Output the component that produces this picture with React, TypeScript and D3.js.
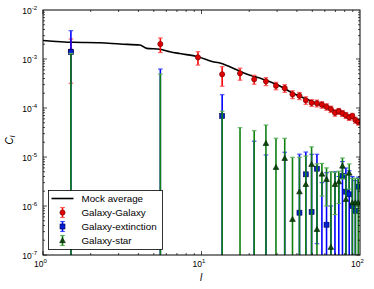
import React, { useEffect, useRef } from "react"
import * as d3 from "d3"

// multipole bins
const ells = [1.5, 5.5, 9.5, 13.5, 17.5, 21.5, 25.5, 29.5, 33.5, 37.5, 41.5, 45.5, 49.5,
  53.5, 57.5, 61.5, 65.5, 69.5, 73.5, 77.5, 81.5, 85.5, 89.5, 93.5, 97.5]

// Galaxy-Galaxy
const ggVal = [1.44e-3, 2.02e-3, 1.08e-3, 4.88e-4, 5.1e-4, 3.86e-4, 3.51e-4, 2.85e-4, 2.54e-4,
  1.9e-4, 1.78e-4, 1.44e-4, 1.28e-4, 1.25e-4, 1.17e-4, 1.06e-4, 9.5e-5, 8.0e-5, 8.6e-5,
  7.8e-5, 7.1e-5, 6.46e-5, 6.87e-5, 5.69e-5, 5.18e-5]
const ggErr = [1.12e-3, 6.7e-4, 3.3e-4, 2.1e-4, 1.4e-4, 8e-5, 6.5e-5, 5e-5, 4.5e-5, 3.5e-5,
  3e-5, 2.5e-5, 2e-5, 2e-5, 1.8e-5, 1.6e-5, 1.4e-5, 1.2e-5, 1.2e-5, 1.1e-5, 1e-5, 9e-6,
  9e-6, 8e-6, 7e-6]

// Galaxy-extinction
const geVal = [1.39e-3, -1e-4, -5e-4, 6.87e-5, -6e-5, -2e-5, -1.5e-5, -3e-5, -1e-5, -2e-5,
  7.3e-7, 4.43e-6, 7.55e-7, 5.77e-6, -2e-6, 4.15e-7, -1e-6, -3e-6, -2e-6, 4.09e-6,
  1.96e-6, 1.73e-6, 1.0e-6, 8e-7, 2.48e-6]
const geErr = [2.39e-3, 7.25e-4, 3e-4, 1.18e-4, 4e-5, 4.1e-5, 2.6e-5, 2e-5, 2.25e-5, 1.5e-5,
  1.07e-5, 8.2e-6, 1.06e-5, 5.6e-6, 5e-6, 4.37e-6, 2e-6, 8e-6, 6e-6, 4e-6, 4e-6, 3.5e-6,
  3e-6, 2.5e-6, 1.4e-6]

// Galaxy-star
const gsVal = [-1e-3, -1e-4, -5e-4, -2e-5, -1e-5, -5e-6, 1.9e-5, 6.17e-6, 9.4e-6, 5.36e-7,
  1.96e-6, 2.77e-6, 7.1e-6, 3.34e-7, 4.5e-6, 3.5e-6, 1.44e-7, 2.77e-6, 3.13e-6, 6.55e-6,
  1.37e-6, 4.71e-6, 1.17e-6, 1.17e-6, 1.17e-6]
const gsErr = [2.3e-3, 5.94e-4, 3e-4, 1.06e-4, 4.96e-5, 3.94e-5, 2.6e-5, 1.8e-5, 1.47e-5,
  9.3e-6, 7.9e-6, 7.7e-6, 9e-6, 6.9e-6, 2.9e-6, 2.5e-6, 4.86e-6, 2.1e-6, 2e-6, 3e-6, 3e-6,
  2.5e-6, 2.5e-6, 2.5e-6, 2.5e-6]

// mock average curve
const mockL = [1, 1.55, 2.29, 3.06, 4.09, 4.5, 5.47, 6.32, 7.3, 9.5, 11.8, 12.9, 15.1, 19.2,
  24.4, 31.2, 37.7, 50.4, 64.3, 82.2, 100]
const mockC = [2.39e-3, 2.19e-3, 2.15e-3, 2.02e-3, 1.93e-3, 1.65e-3, 1.58e-3, 1.41e-3,
  1.29e-3, 1.11e-3, 8.8e-4, 8.4e-4, 6.97e-4, 4.94e-4, 3.86e-4, 2.81e-4, 2.0e-4, 1.35e-4,
  9.5e-5, 7.2e-5, 5.25e-5]

const yTicks = [1e-7, 1e-6, 1e-5, 1e-4, 1e-3, 1e-2]
const xTicks = [1, 10, 100]

const FONT = "'Liberation Sans', Arial, sans-serif"

export default function App() {
  const ref = useRef<SVGSVGElement>(null)

  useEffect(() => {
    const svg = d3.select(ref.current)
    svg.selectAll("*").remove()
    const left = 43, right = 360, top = 10, bottom = 255

    const x = d3.scaleLog().domain([1, 100]).range([left, right])
    const y = d3.scaleLog().domain([1e-7, 1e-2]).range([bottom, top])

    svg.append("defs").append("clipPath").attr("id", "plotclip")
      .append("rect").attr("x", left).attr("y", top)
      .attr("width", right - left).attr("height", bottom - top)

    const plot = svg.append("g").attr("clip-path", "url(#plotclip)")

    // mock average
    const line = d3.line<number>()
      .x((d, i) => x(mockL[i]))
      .y(d => y(d))
      .curve(d3.curveMonotoneX)
    plot.append("path").attr("d", line(mockC))
      .attr("fill", "none").attr("stroke", "black").attr("stroke-width", 1.6)

    const yOf = (v: number) => v > 0 ? y(v) : bottom + 20

    const series = [
      { val: ggVal, err: ggErr, color: "#ff0000", cap: "#ff5555", fill: "#e00000", edge: "#600000", shape: "circle" },
      { val: geVal, err: geErr, color: "#0000ff", cap: "#3344ff", fill: "#0020d0", edge: "#000050", shape: "square" },
      { val: gsVal, err: gsErr, color: "#108010", cap: "#55b055", fill: "#0b4a0b", edge: "#002000", shape: "triangle" },
    ]

    series.forEach(s => {
      const g = plot.append("g")
      ells.forEach((l, i) => {
        const cx = x(l)
        const hi = s.val[i] + s.err[i]
        const lo = s.val[i] - s.err[i]
        if (hi <= 0) return
        const y1 = yOf(hi), y2 = yOf(lo)
        g.append("line").attr("x1", cx).attr("x2", cx).attr("y1", y1).attr("y2", y2)
          .attr("stroke", s.color).attr("stroke-width", 1.6)
        g.append("line").attr("x1", cx - 2.3).attr("x2", cx + 2.3).attr("y1", y1).attr("y2", y1)
          .attr("stroke", s.cap).attr("stroke-width", 1.1)
        if (lo > 0) {
          g.append("line").attr("x1", cx - 2.3).attr("x2", cx + 2.3).attr("y1", y2).attr("y2", y2)
            .attr("stroke", s.cap).attr("stroke-width", 1.1)
        }
      })
      ells.forEach((l, i) => {
        const v = s.val[i]
        if (v <= 0) return
        drawMarker(g, s.shape, x(l), y(v), s.fill, s.edge)
      })
    })

    function drawMarker(g: any, shape: string, cx: number, cy: number, fill: string, edge: string) {
      if (shape === "circle") {
        g.append("circle").attr("cx", cx).attr("cy", cy).attr("r", 2.6)
          .attr("fill", fill).attr("stroke", edge).attr("stroke-width", 0.6)
      } else if (shape === "square") {
        g.append("rect").attr("x", cx - 2.5).attr("y", cy - 2.5).attr("width", 5).attr("height", 5)
          .attr("fill", fill).attr("stroke", edge).attr("stroke-width", 0.6)
      } else {
        const sym = d3.symbol().type(d3.symbolTriangle).size(14)
        g.append("path").attr("d", sym()).attr("transform", `translate(${cx},${cy + 0.5})`)
          .attr("fill", fill).attr("stroke", edge).attr("stroke-width", 0.6)
      }
    }

    // frame
    svg.append("rect").attr("x", left).attr("y", top)
      .attr("width", right - left).attr("height", bottom - top)
      .attr("fill", "none").attr("stroke", "black").attr("stroke-width", 1)

    const axes = svg.append("g").attr("stroke", "black").attr("stroke-width", 0.7)
    // y ticks
    for (let e = -7; e < -2; e++) {
      for (let m = 1; m < 10; m++) {
        const v = m * Math.pow(10, e)
        const len = m === 1 ? 4 : 2
        const py = y(v)
        axes.append("line").attr("x1", left).attr("x2", left + len).attr("y1", py).attr("y2", py)
        axes.append("line").attr("x1", right).attr("x2", right - len).attr("y1", py).attr("y2", py)
      }
    }
    // x ticks
    for (let e = 0; e < 2; e++) {
      for (let m = 1; m < 10; m++) {
        const v = m * Math.pow(10, e)
        const len = m === 1 ? 4 : 2
        const px = x(v)
        axes.append("line").attr("x1", px).attr("x2", px).attr("y1", bottom).attr("y2", bottom - len)
        axes.append("line").attr("x1", px).attr("x2", px).attr("y1", top).attr("y2", top + len)
      }
    }

    // y tick labels
    yTicks.forEach(v => {
      const t = svg.append("text").attr("x", 37).attr("y", y(v) + 3.5)
        .attr("text-anchor", "end").attr("font-family", FONT).attr("font-size", 8.5)
      t.append("tspan").text("10")
      t.append("tspan").attr("font-size", 6).attr("dy", -4).text(String(Math.round(Math.log10(v))))
    })
    // x tick labels
    xTicks.forEach(v => {
      const t = svg.append("text").attr("x", x(v) - 9).attr("y", 267)
        .attr("font-family", FONT).attr("font-size", 8.5)
      t.append("tspan").text("10")
      t.append("tspan").attr("font-size", 6).attr("dy", -4).text(String(Math.round(Math.log10(v))))
    })

    // axis labels
    svg.append("text").attr("x", 201).attr("y", 281).attr("text-anchor", "middle")
      .attr("font-family", FONT).attr("font-style", "italic").attr("font-size", 10).text("l")
    const yl = svg.append("text").attr("transform", "translate(13,140) rotate(-90)")
      .attr("text-anchor", "middle").attr("font-family", FONT).attr("font-style", "italic").attr("font-size", 10)
    yl.append("tspan").text("C")
    yl.append("tspan").attr("font-size", 7).attr("dy", 2).text("l")

    // legend
    const lg = svg.append("g")
    lg.append("rect").attr("x", 48.5).attr("y", 190.5).attr("width", 114).attr("height", 59)
      .attr("fill", "white").attr("stroke", "black").attr("stroke-width", 0.8)
    const rows = [
      { label: "Mock average", s: null as any },
      { label: "Galaxy-Galaxy", s: series[0] },
      { label: "Galaxy-extinction", s: series[1] },
      { label: "Galaxy-star", s: series[2] },
    ]
    rows.forEach((r, i) => {
      const ry = 198.5 + i * 14
      if (!r.s) {
        lg.append("line").attr("x1", 51.5).attr("x2", 73.5).attr("y1", ry).attr("y2", ry)
          .attr("stroke", "black").attr("stroke-width", 1.6)
      } else {
        const cx = 62.5
        lg.append("line").attr("x1", cx).attr("x2", cx).attr("y1", ry - 5).attr("y2", ry + 5)
          .attr("stroke", r.s.color).attr("stroke-width", 1.6)
        ;[ry - 5, ry + 5].forEach(cy => lg.append("line").attr("x1", cx - 2.3).attr("x2", cx + 2.3)
          .attr("y1", cy).attr("y2", cy).attr("stroke", r.s.cap).attr("stroke-width", 1.1))
        drawMarker(lg, r.s.shape, cx, ry, r.s.fill, r.s.edge)
      }
      lg.append("text").attr("x", 81.5).attr("y", ry + 3.5).attr("font-family", FONT)
        .attr("font-size", 9.8).text(r.label)
    })
  }, [])

  return (
    <svg ref={ref} width={374} height={289}
      style={{ position: "absolute", left: 0, top: 0, background: "white" }} />
  )
}
